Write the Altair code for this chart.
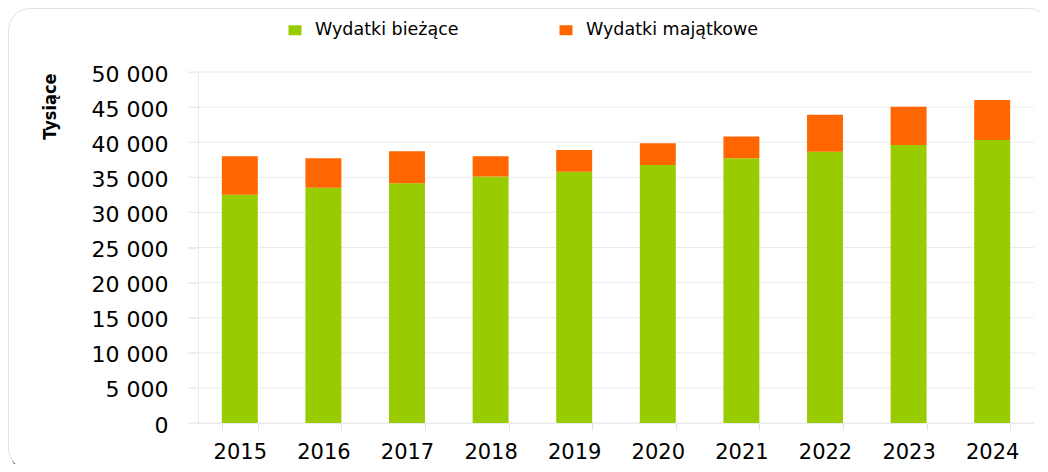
import altair as alt
import pandas as pd

years = ["2015", "2016", "2017", "2018", "2019", "2020", "2021", "2022", "2023", "2024"]
biezace = [32500, 33500, 34150, 35100, 35800, 36750, 37700, 38650, 39600, 40300]
majatkowe = [5500, 4200, 4550, 2900, 3100, 3100, 3100, 5250, 5450, 5700]
series = ["Wydatki bieżące", "Wydatki majątkowe"]
colors = ["#99CC00", "#FF6600"]
y_ticks = [0, 5000, 10000, 15000, 20000, 25000, 30000, 35000, 40000, 45000, 50000]

rows = []
for i, yr in enumerate(years):
    rows.append({"rok": yr, "typ": series[0], "wartosc": biezace[i], "ord": 0})
    rows.append({"rok": yr, "typ": series[1], "wartosc": majatkowe[i], "ord": 1})
df = pd.DataFrame(rows)

W, H = 836, 351
one = pd.DataFrame({"k": [0]})

shadow = alt.Chart(one).mark_rect(cornerRadius=22, fill="#000000").encode(
    x=alt.value(-187.5), x2=alt.value(854), y=alt.value(-59.5), y2=alt.value(402)
)
frame = alt.Chart(one).mark_rect(
    cornerRadius=22, fill="#ffffff", stroke="#e2e2e2", strokeWidth=1
).encode(
    x=alt.value(-189.5), x2=alt.value(852), y=alt.value(-63.5), y2=alt.value(398)
)

yscale = alt.Scale(domain=[0, 50000])

y_axis = alt.Axis(
    values=y_ticks,
    labelExpr="replace(format(datum.value, ','), ',', ' ')",
    labelFont="DejaVu Sans",
    labelFontSize=22,
    labelColor="#000000",
    labelPadding=20,
    labelOffset=2,
    tickSize=10,
    tickColor="#ebebeb",
    domainColor="#ebebeb",
    grid=False,
    title="Tysiące",
    titleFont="DejaVu Sans Condensed, Liberation Sans Narrow, Liberation Sans",
    titleFontWeight="bold",
    titleFontSize=18,
    titleColor="#000000",
    titleAngle=270,
    titleX=-148,
    titleY=1,
    titleAlign="right",
    titleBaseline="middle",
    zindex=1,
)

grid = alt.Chart(pd.DataFrame({"wartosc": y_ticks})).mark_rule(
    color="#ebebeb", strokeWidth=1
).encode(
    y=alt.Y("wartosc:Q", scale=yscale, axis=y_axis),
    x=alt.value(-10),
    x2=alt.value(W),
)

bars = alt.Chart(df).mark_bar().encode(
    x=alt.X(
        "rok:N",
        sort=years,
        scale=alt.Scale(paddingInner=0.57, paddingOuter=0.285),
        axis=alt.Axis(
            title=None,
            labelAngle=0,
            labelFont="DejaVu Sans",
            labelFontSize=21,
            labelColor="#000000",
            labelPadding=11,
            tickBand="extent",
            tickSize=7,
            tickColor="#e3e3e3",
            domainColor="#ebebeb",
            grid=False,
            zindex=1,
        ),
    ),
    y=alt.Y("wartosc:Q", stack="zero", scale=yscale, axis=y_axis),
    color=alt.Color(
        "typ:N",
        scale=alt.Scale(domain=series, range=colors),
        legend=alt.Legend(
            title=None,
            orient="none",
            legendX=87,
            legendY=-52,
            direction="horizontal",
            symbolType="M-0.65,-0.5H0.65V0.5H-0.65Z",
            symbolSize=400,
            symbolStrokeWidth=0,
            labelFont="DejaVu Sans",
            labelFontSize=17.5,
            labelColor="#000000",
            labelOffset=10,
            labelLimit=400,
            columnPadding=97,
        ),
    ),
    order=alt.Order("ord:Q", sort="ascending"),
)

chart = alt.layer(shadow, frame, grid, bars).properties(
    width=W,
    height=H,
    autosize=alt.AutoSizeParams(type="none"),
    padding={"left": 190, "top": 64, "right": 6, "bottom": 41},
).configure_view(stroke=None)

chart.save("out.html", embed_options={"renderer": "svg", "actions": False})
